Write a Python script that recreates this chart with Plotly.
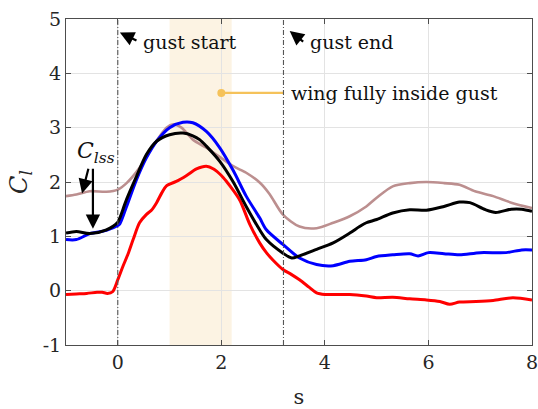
import plotly.graph_objects as go

# Lift coefficient histories against convective time s
s_red = [-1, -0.8, -0.6, -0.4, -0.3, -0.2, -0.1, 0, 0.1, 0.2, 0.3, 0.42, 0.55, 0.65, 0.75, 0.85, 0.94,
         1.13, 1.33, 1.52, 1.71, 1.85, 2.0, 2.1, 2.22, 2.36, 2.55, 2.74, 2.87, 3.0, 3.19, 3.35, 3.51,
         3.7, 3.84, 4.0, 4.16, 4.48, 4.8, 5.0, 5.31, 5.64, 5.96, 6.22, 6.41, 6.6, 6.92, 7.25, 7.63, 8]
cl_red = [-0.07, -0.06, -0.05, -0.03, -0.03, -0.05, -0.02, 0.2, 0.45, 0.68, 0.95, 1.25, 1.40, 1.48,
          1.62, 1.80, 1.93, 2.01, 2.12, 2.24, 2.29, 2.24, 2.12, 2.01, 1.86, 1.66, 1.22, 0.88, 0.70,
          0.56, 0.39, 0.30, 0.20, 0.06, -0.04, -0.07, -0.07, -0.07, -0.10, -0.13, -0.12, -0.15,
          -0.17, -0.20, -0.25, -0.21, -0.20, -0.18, -0.13, -0.17]

s_blue = [-1, -0.8, -0.54, -0.22, 0, 0.04, 0.17, 0.36, 0.55, 0.75, 1.0, 1.26, 1.45, 1.71, 1.97,
          2.23, 2.48, 2.74, 2.87, 3.19, 3.51, 3.84, 4.16, 4.48, 4.8, 5.0, 5.31, 5.64, 5.8, 6.0,
          6.3, 6.6, 7.0, 7.5, 7.8, 8]
cl_blue = [0.94, 0.94, 1.05, 1.11, 1.20, 1.23, 1.55, 2.04, 2.44, 2.75, 3.0, 3.10, 3.09, 2.93, 2.63,
           2.21, 1.74, 1.34, 1.12, 0.85, 0.60, 0.48, 0.46, 0.54, 0.57, 0.63, 0.66, 0.68, 0.64, 0.70,
           0.68, 0.66, 0.70, 0.70, 0.75, 0.75]

s_black = [-1, -0.8, -0.54, -0.22, 0, 0.04, 0.17, 0.36, 0.55, 0.75, 1.0, 1.26, 1.45, 1.58, 1.71,
           1.97, 2.23, 2.48, 2.74, 2.87, 3.19, 3.36, 3.51, 3.84, 4.16, 4.48, 4.67, 4.8, 5.0, 5.31,
           5.64, 5.96, 6.3, 6.6, 6.8, 7.1, 7.3, 7.6, 7.8, 8]
cl_black = [1.06, 1.09, 1.05, 1.12, 1.26, 1.34, 1.68, 2.10, 2.50, 2.75, 2.87, 2.90, 2.85, 2.78,
            2.66, 2.38, 2.0, 1.55, 1.12, 0.94, 0.69, 0.60, 0.64, 0.76, 0.88, 1.06, 1.18, 1.25,
            1.31, 1.43, 1.49, 1.48, 1.55, 1.63, 1.62, 1.49, 1.44, 1.50, 1.50, 1.46]

s_brown = [-1, -0.8, -0.54, -0.22, 0, 0.17, 0.42, 0.68, 0.94, 1.07, 1.23, 1.45, 1.71, 2.0, 2.23,
           2.48, 2.74, 2.93, 3.19, 3.51, 3.84, 4.16, 4.48, 4.8, 5.0, 5.31, 5.64, 5.96, 6.3, 6.6,
           6.9, 7.25, 7.6, 8]
cl_brown = [1.74, 1.77, 1.83, 1.82, 1.86, 1.98, 2.26, 2.66, 3.0, 3.06, 3.0, 2.78, 2.63, 2.44, 2.29,
            2.17, 1.99, 1.78, 1.40, 1.18, 1.15, 1.25, 1.37, 1.55, 1.71, 1.92, 1.98, 2.0, 1.98,
            1.95, 1.83, 1.74, 1.62, 1.52]

# Event markers
gust_start = 0.0
gust_end = 3.2
inside_band = [1.0, 2.2]
inside_mark = (2.0, 3.64)

x_ticks = [0, 2, 4, 6, 8]
y_ticks = [-1, 0, 1, 2, 3, 4, 5]

FONT = "DejaVu Serif"

fig = go.Figure()

series = [
    (s_brown, cl_brown, "#bc8f8f", 2.6),
    (s_blue, cl_blue, "#0000ff", 3.0),
    (s_red, cl_red, "#ff0000", 3.0),
    (s_black, cl_black, "#000000", 3.0),
]
for xs, ys, col, w in series:
    fig.add_trace(go.Scatter(x=xs, y=ys, mode="lines",
                             line=dict(color=col, width=w, shape="spline", smoothing=0.8),
                             showlegend=False, hoverinfo="skip"))

# marker and leader line for "wing fully inside gust"
fig.add_trace(go.Scatter(x=[inside_mark[0], gust_end], y=[inside_mark[1], inside_mark[1]],
                         mode="lines", line=dict(color="#f5c25a", width=2.2),
                         showlegend=False, hoverinfo="skip"))
fig.add_trace(go.Scatter(x=[inside_mark[0]], y=[inside_mark[1]], mode="markers",
                         marker=dict(color="#f5c25a", size=8),
                         showlegend=False, hoverinfo="skip"))

# shaded interval where the wing is fully inside the gust
fig.add_shape(type="rect", xref="x", yref="y", x0=inside_band[0], x1=inside_band[1],
              y0=-1, y1=5, fillcolor="#fcf3e3", line=dict(width=0), layer="below")

for xv in (gust_start, gust_end):
    fig.add_shape(type="line", xref="x", yref="y", x0=xv, x1=xv, y0=-1, y1=5,
                  line=dict(color="#555555", width=1.1, dash="5px,2px,1px,2px"))

text_font = dict(family=FONT, size=19, color="#111111")

fig.add_annotation(x=0.44, y=4.57, text="gust start", showarrow=False,
                   xanchor="left", yanchor="middle", font=text_font)
fig.add_annotation(x=3.67, y=4.58, text="gust end", showarrow=False,
                   xanchor="left", yanchor="middle", font=text_font)
fig.add_annotation(x=3.31, y=3.64, text="wing fully inside gust", showarrow=False,
                   xanchor="left", yanchor="middle", font=text_font)

arrow_common = dict(showarrow=True, arrowhead=2, arrowsize=1.3, arrowwidth=2.2,
                    arrowcolor="#000000", axref="x", ayref="y", text="")
fig.add_annotation(x=0.04, y=4.75, ax=0.39, ay=4.59, **arrow_common)
fig.add_annotation(x=3.32, y=4.78, ax=3.61, ay=4.56, **arrow_common)
fig.add_annotation(x=-0.69, y=1.79, ax=-0.56, ay=2.27, **arrow_common)
fig.add_annotation(x=-0.48, y=1.14, ax=-0.48, ay=2.27, **arrow_common)

fig.add_annotation(x=-0.43, y=2.55, text="<i>C</i><sub><i>lss</i></sub>", showarrow=False,
                   xanchor="center", yanchor="middle",
                   font=dict(family=FONT, size=22, color="#111111"))

axis_common = dict(showline=True, linecolor="#4d4d4d", linewidth=1, mirror="ticks",
                   ticks="inside", ticklen=5, tickcolor="#4d4d4d",
                   showgrid=True, gridcolor="#e3e3e3", gridwidth=1, zeroline=False,
                   ticklabeloverflow="allow", automargin=False,
                   tickfont=dict(family=FONT, size=19, color="#262626"))

fig.update_xaxes(range=[-1, 8], tickvals=x_ticks, ticktext=[str(v) for v in x_ticks],
                 title=dict(text="s", font=dict(family=FONT, size=21, color="#262626"), standoff=18),
                 **axis_common)
fig.update_yaxes(range=[-1, 5], tickvals=y_ticks, ticktext=[str(v) for v in y_ticks],
                 title=dict(text="<i>C</i><sub><i>l</i></sub>",
                            font=dict(family=FONT, size=24, color="#262626"), standoff=8),
                 **axis_common)

fig.update_layout(width=538, height=409, margin=dict(l=66, r=6, t=19, b=64),
                  plot_bgcolor="white", paper_bgcolor="white")

fig.write_html("out.html")
